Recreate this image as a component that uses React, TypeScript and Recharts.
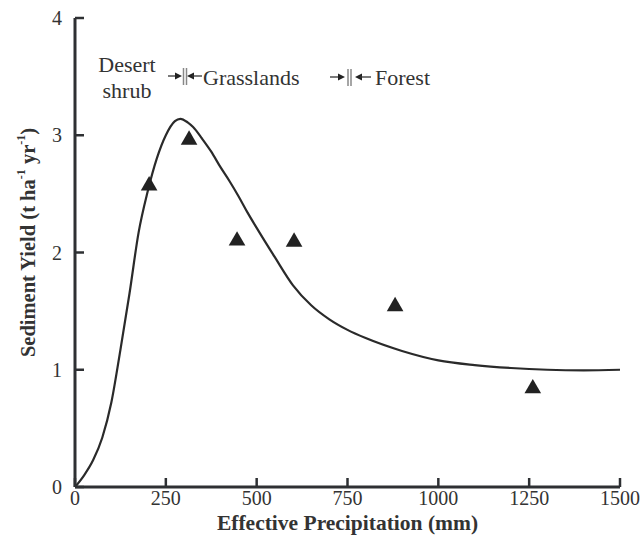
import React from 'react';
import { ComposedChart, Line, Scatter, XAxis, YAxis, ZAxis, Label } from 'recharts';

// fitted curve
const curveX = [0, 25, 50, 75, 100, 125, 150, 175, 200, 225, 250, 275, 290, 310, 325, 350, 375, 400, 425, 450, 475, 500, 550, 600, 650, 700, 750, 800, 900, 1000, 1100, 1200, 1300, 1400, 1500];
const curveY = [0, 0.1, 0.23, 0.42, 0.72, 1.17, 1.65, 2.17, 2.52, 2.8, 3.0, 3.12, 3.14, 3.11, 3.07, 2.97, 2.86, 2.73, 2.61, 2.48, 2.34, 2.21, 1.96, 1.72, 1.55, 1.43, 1.34, 1.27, 1.16, 1.08, 1.04, 1.015, 1.0, 0.995, 1.0];

// observed points
const obsX = [204, 314, 446, 603, 881, 1260];
const obsY = [2.57, 2.96, 2.1, 2.09, 1.54, 0.84];

const xTicks = [0, 250, 500, 750, 1000, 1250, 1500];
const yTicks = [0, 1, 2, 3, 4];

const curve = curveX.map((x, i) => ({ x, y: curveY[i] }));
const observed = obsX.map((x, i) => ({ x, y: obsY[i] }));

const INK = '#2e3033';
const SERIF = { fontFamily: "'Liberation Serif', 'Times New Roman', Times, serif" };

const XTick = (props: any) => {
    const { x, y, payload } = props;
    return (
        <g>
            <line x1={x} y1={y} x2={x} y2={y - 9} stroke={INK} strokeWidth={2.5} />
            <text x={x} y={y + 4} dy="0.71em" textAnchor="middle" style={SERIF} fontSize={20} fill="#333">
                {payload.value}
            </text>
        </g>
    );
};

const YTick = (props: any) => {
    const { x, y, payload } = props;
    return (
        <g>
            <line x1={x} y1={y} x2={x + 9} y2={y} stroke={INK} strokeWidth={2.5} />
            <text x={x - 13} y={y} dy="0.355em" textAnchor="end" style={SERIF} fontSize={20} fill="#333">
                {payload.value}
            </text>
        </g>
    );
};

const YTitle = (props: any) => {
    const { x, y, height } = props.viewBox;
    const cx = x + 28;
    const cy = y + height / 2 - 10;
    return (
        <text
            x={cx}
            y={cy}
            transform={`rotate(-90, ${cx}, ${cy})`}
            textAnchor="middle"
            dominantBaseline="central"
            style={SERIF}
            fontWeight="bold"
            fontSize={20.5}
            fill="#333"
        >
            Sediment Yield (t ha<tspan dy={-7} fontSize={12}>-1</tspan>
            <tspan dy={7}> yr</tspan>
            <tspan dy={-7} fontSize={12}>-1</tspan>
            <tspan dy={7}>)</tspan>
        </text>
    );
};

const XTitle = (props: any) => {
    const { x, y, width } = props.viewBox;
    return (
        <text
            x={x + width / 2}
            y={y + 36}
            textAnchor="middle"
            dominantBaseline="central"
            style={SERIF}
            fontWeight="bold"
            fontSize={21.5}
            fill="#333"
        >
            Effective Precipitation (mm)
        </text>
    );
};

// "→‖←" boundary marker between vegetation zones
const Boundary = ({ x0, x1, b0, b1, x2, x3, y }: any) => (
    <g stroke="#333" strokeWidth={1.3}>
        <line x1={x0} y1={y} x2={x1 - 5} y2={y} />
        <polygon points={`${x1},${y} ${x1 - 7},${y - 3.5} ${x1 - 7},${y + 3.5}`} fill="#222" stroke="none" />
        <line x1={b0} y1={y - 8} x2={b0} y2={y + 9} stroke="#888" strokeWidth={1.5} />
        <line x1={b1} y1={y - 8} x2={b1} y2={y + 9} stroke="#888" strokeWidth={1.5} />
        <polygon points={`${x2},${y} ${x2 + 7},${y - 3.5} ${x2 + 7},${y + 3.5}`} fill="#222" stroke="none" />
        <line x1={x2 + 5} y1={y} x2={x3} y2={y} />
    </g>
);

const App: React.FC = () => {
    return (
        <div style={{ position: 'absolute', left: 0, top: 0, width: 640, height: 540 }}>
            <ComposedChart width={640} height={540} margin={{ top: 18, right: 20, left: 0, bottom: 0 }}>
                <XAxis
                    type="number"
                    dataKey="x"
                    domain={[0, 1500]}
                    ticks={xTicks}
                    interval={0}
                    height={53}
                    tickSize={0}
                    tickMargin={0}
                    tickLine={false}
                    axisLine={{ stroke: INK, strokeWidth: 3 }}
                    tick={<XTick />}
                >
                    <Label content={<XTitle />} />
                </XAxis>
                <YAxis
                    type="number"
                    dataKey="y"
                    domain={[0, 4]}
                    ticks={yTicks}
                    interval={0}
                    width={75}
                    tickSize={0}
                    tickMargin={0}
                    tickLine={false}
                    axisLine={{ stroke: INK, strokeWidth: 3 }}
                    tick={<YTick />}
                >
                    <Label content={<YTitle />} />
                </YAxis>
                <ZAxis range={[120, 120]} />
                <Line
                    data={curve}
                    dataKey="y"
                    type="monotone"
                    stroke="#2a2a2a"
                    strokeWidth={2.2}
                    dot={false}
                    activeDot={false}
                    isAnimationActive={false}
                />
                <Scatter data={observed} dataKey="y" shape="triangle" fill="#222" isAnimationActive={false} />
            </ComposedChart>
            <svg width={640} height={540} style={{ position: 'absolute', left: 0, top: 0, pointerEvents: 'none' }}>
                <g style={SERIF} fontSize={22} fill="#333">
                    <text x={127} y={72} textAnchor="middle">Desert</text>
                    <text x={127} y={98} textAnchor="middle">shrub</text>
                    <text x={203} y={85}>Grasslands</text>
                    <text x={375} y={85}>Forest</text>
                </g>
                <Boundary x0={168} x1={182} b0={183.5} b1={186.5} x2={187} x3={202} y={76} />
                <Boundary x0={330} x1={345} b0={348} b1={351} x2={355} x3={371} y={77} />
            </svg>
        </div>
    );
};

export default App;
